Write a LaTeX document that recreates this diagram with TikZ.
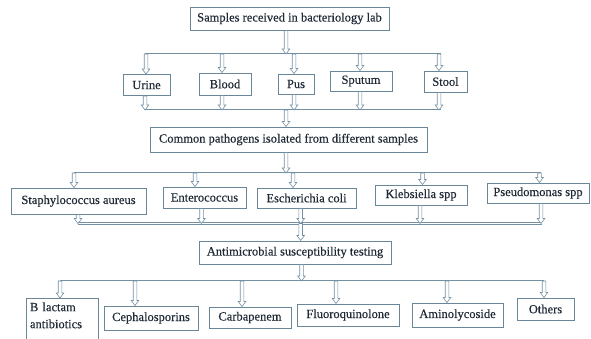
\documentclass[tikz,border=0pt]{standalone}
\usepackage{fontspec}
\setmainfont{Liberation Serif}
\newfontfamily\boxfont{Liberation Serif}[FakeBold=0.4]
\usetikzlibrary{calc}
\definecolor{boxc}{HTML}{6A8699}
\definecolor{txtc}{HTML}{1F2A36}
\definecolor{linec}{HTML}{7490A3}
\tikzset{
  box/.style={draw=boxc, line width=1pt, text=txtc, font=\boxfont\fontsize{12.5}{14}\selectfont, inner sep=0pt, anchor=center},
  bus/.style={draw=linec, line width=0.65pt, double=white, double distance=0.9pt},
  harr/.style={draw=linec, line width=0.6pt, fill=white,
    to path={let \p1=(\tikztostart), \p2=(\tikztotarget) in
      (\x1-1.8pt,\y1) -- (\x1+1.8pt,\y1) -- (\x1+1.8pt,\y2+5pt) -- (\x1+3.8pt,\y2+5pt)
      -- (\x1,\y2) -- (\x1-3.8pt,\y2+5pt) -- (\x1-1.8pt,\y2+5pt) -- cycle}},
}
\begin{document}
\begin{tikzpicture}[x=1pt,y=-1pt]
\useasboundingbox (0,0) rectangle (591,338);
% boxes
\node[box, minimum width=199pt, minimum height=23pt] (top) at (289.5,18.5) {Samples received in bacteriology lab};
\node[box, minimum width=47pt, minimum height=21pt] (urine) at (146.5,85) {Urine};
\node[box, minimum width=52pt, minimum height=22pt] (blood) at (225,84) {Blood};
\node[box, minimum width=36pt, minimum height=20pt] (pus) at (296,84) {Pus};
\node[box, minimum width=62pt, minimum height=20pt] (sputum) at (361,81) {Sputum};
\node[box, minimum width=43pt, minimum height=21pt] (stool) at (445.5,81.5) {Stool};
\node[box, minimum width=277pt, minimum height=25pt] (path) at (288.5,139.5) {Common pathogens isolated from different samples};
\node[box, minimum width=135pt, minimum height=26pt] (staph) at (78.5,201) {Staphylococcus aureus};
\node[box, minimum width=83pt, minimum height=21pt] (entero) at (204.5,197.5) {Enterococcus};
\node[box, minimum width=99pt, minimum height=20pt] (ecoli) at (306.5,198) {Escherichia coli};
\node[box, minimum width=92pt, minimum height=20pt] (kleb) at (421,195) {Klebsiella spp};
\node[box, minimum width=102pt, minimum height=20pt] (pseudo) at (538,193) {Pseudomonas spp};
\node[box, minimum width=192pt, minimum height=23pt] (ast) at (295,252.5) {Antimicrobial susceptibility testing};
\node[box, anchor=north west, inner xsep=4pt, inner ysep=4pt, text width=64pt, align=left] (blac) at (25.5,298) {B lactam\\[3pt]antibiotics\\[3pt]\mbox{}};
\node[box, minimum width=94pt, minimum height=24pt] (ceph) at (151,318) {Cephalosporins};
\node[box, minimum width=82pt, minimum height=21pt] (carb) at (250,317.5) {Carbapenem};
\node[box, minimum width=102pt, minimum height=22pt] (fluo) at (348,315) {Fluoroquinolone};
\node[box, minimum width=91pt, minimum height=24pt] (amin) at (457.5,315) {Aminolycoside};
\node[box, minimum width=57pt, minimum height=22pt] (oth) at (545.5,309) {Others};
% bus coordinates
\coordinate (b1l) at (145,54);  \coordinate (b1r) at (441,54);
\coordinate (b2l) at (145,110); \coordinate (b2r) at (441,110);
\coordinate (b3l) at (73.5,173); \coordinate (b3r) at (541,173);
\coordinate (b4l) at (77.5,223.5);  \coordinate (b4r) at (542,223.5);
\coordinate (b5l) at (60,281);  \coordinate (b5r) at (544,281);
\draw[bus] (b1l) -- (b1r);
\draw[bus] (b2l) -- (b2r);
\draw[bus] (b3l) -- (b3r);
\draw[bus] (b4l) -- (b4r);
\draw[bus] (b5l) -- (b5r);
% arrow start points on buses
\coordinate (c0) at (286,54);
\foreach \n/\x in {u/146,b/222,p/294,s/360,t/439}{\coordinate (c1\n) at (\x,54);}
\foreach \n/\x in {u/145,b/222,p/294,s/360,t/439}{\coordinate (c2\n) at (\x,110);}
\coordinate (c2m) at (286,110);
\coordinate (c3m) at (286,173);
\foreach \n/\x in {a/74,b/195,c/293,d/422.5,e/539.5}{\coordinate (c3\n) at (\x,173);}
\foreach \n/\x in {a/78,b/201.5,c/300.7,d/420,e/541}{\coordinate (c4\n) at (\x,223.5);}
\coordinate (c5m) at (301.5,281);
\foreach \n/\x in {a/60,b/135,c/242,d/336,e/447,f/544}{\coordinate (c5\n) at (\x,281);}
% arrows
\path[harr] (top.south -| c0) to (c0);
\path[harr] (c1u) to (urine.north);
\path[harr] (c1b) to (blood.north);
\path[harr] (c1p) to (pus.north);
\path[harr] (c1s) to (sputum.north);
\path[harr] (c1t) to (stool.north);
\path[harr] (urine.south -| c2u) to (c2u);
\path[harr] (blood.south -| c2b) to (c2b);
\path[harr] (pus.south -| c2p) to (c2p);
\path[harr] (sputum.south -| c2s) to (c2s);
\path[harr] (stool.south -| c2t) to (c2t);
\path[harr] (c2m) to (path.north);
\path[harr] (path.south -| c3m) to (c3m);
\path[harr] (c3a) to (staph.north);
\path[harr] (c3b) to (entero.north);
\path[harr] (c3c) to (ecoli.north);
\path[harr] (c3d) to (kleb.north);
\path[harr] (c3e) to (pseudo.north);
\path[harr] (staph.south -| c4a) to (c4a);
\path[harr] (entero.south -| c4b) to (c4b);
\path[harr] (ecoli.south -| c4c) to (c4c);
\path[harr] (kleb.south -| c4d) to (c4d);
\path[harr] (pseudo.south -| c4e) to (c4e);
\path[harr] (c4c) to (ast.north);
\path[harr] (ast.south -| c5m) to (c5m);
\path[harr] (c5a) to (blac.north -| c5a);
\path[harr] (c5b) to (ceph.north);
\path[harr] (c5c) to (carb.north);
\path[harr] (c5d) to (fluo.north);
\path[harr] (c5e) to (amin.north);
\path[harr] (c5f) to (oth.north);
\end{tikzpicture}
\end{document}
